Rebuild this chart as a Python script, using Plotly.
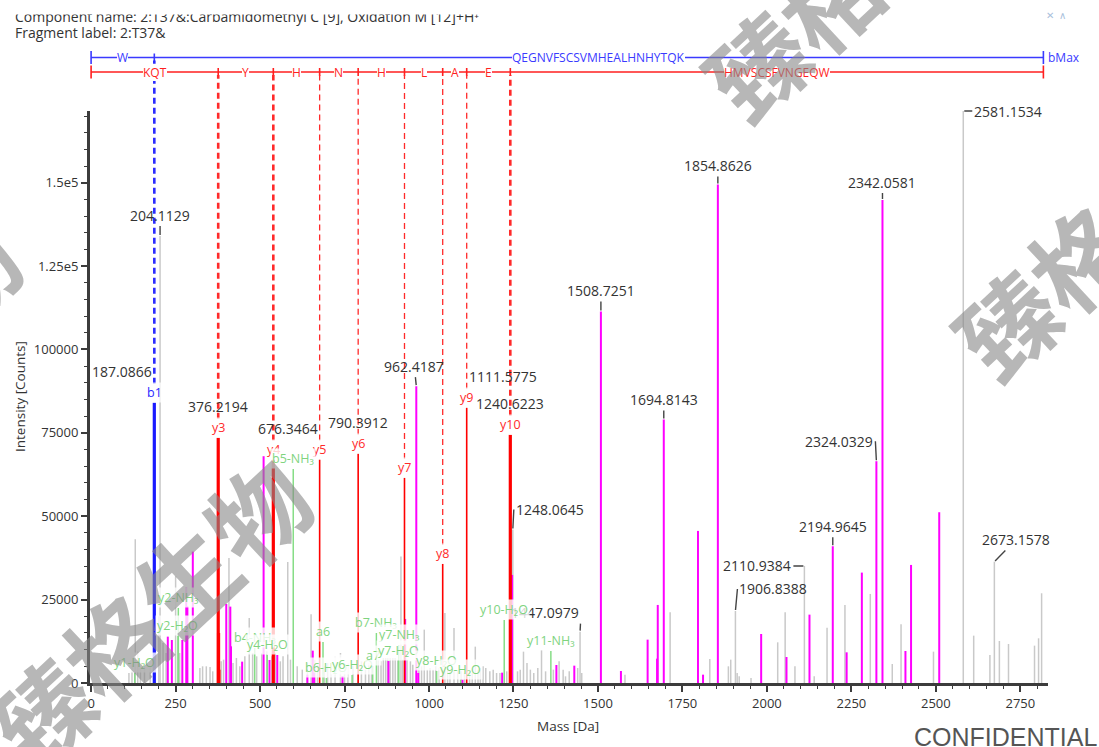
import plotly.graph_objects as go

# ------------------------------------------------------------------ data
grey_mz = [112, 121, 130.7, 138, 146, 158, 175, 200.5, 213, 222, 250.1, 262, 322, 330, 341, 352, 360,
           385, 392, 408, 420, 430, 440, 455, 468, 478, 490, 505, 520, 535, 545, 560, 568, 582, 590,
           610, 625, 640, 651, 662, 670, 690, 700, 710, 722, 738, 750, 760, 775, 790, 800, 812, 822,
           830, 850, 858, 865, 872, 878, 885, 893, 900, 908, 917, 922, 935, 945, 952, 970, 978, 986,
           995, 1003, 1012, 1020, 1030, 1047, 1055, 1062, 1074, 1085, 1095, 1105, 1120, 1128, 1137,
           1145, 1152, 1160, 1168, 1180, 1190, 1200, 1210, 1230, 1262, 1270, 1279.6, 1290, 1300,
           1310, 1322, 1333, 1345, 1368, 1385, 1397, 1404, 1415, 1440, 1452, 1580, 1713.6, 1831,
           1886, 1893, 1912, 1918, 1953, 2032, 2054, 2083, 2140, 2178, 2231, 2306, 2371, 2397, 2493,
           2612, 2660, 2688, 2715, 2792, 2804, 2813]
grey_int = [3000, 5500, 43100, 9400, 4500, 6000, 5000, 20000, 12000, 9000, 32000, 9000, 4500, 5000,
            5000, 4800, 3500, 6500, 7000, 37500, 6000, 7500, 5000, 8000, 19500, 9000, 8000, 9000,
            9500, 8000, 9000, 6500, 8000, 36300, 7000, 5000, 4000, 6000, 20600, 7000, 5500, 5000,
            6000, 4500, 8000, 9000, 5000, 6000, 5000, 4000, 6500, 4000, 6000, 9000, 7000, 6500,
            7500, 7500, 7500, 7500, 7500, 7500, 7000, 37900, 7000, 7000, 6500, 5500, 5000, 5000,
            16000, 4000, 4500, 4000, 5000, 4500, 21000, 4000, 3500, 16500, 4000, 3500, 3000, 3500,
            3000, 10900, 4000, 4500, 5000, 4500, 3500, 4000, 3000, 3000, 3500, 3500, 4000, 9400,
            6000, 4000, 3000, 4500, 9900, 3500, 4000, 6500, 4000, 2000, 3500, 4500, 3000, 2500,
            21200, 7200, 5000, 7000, 3000, 2000, 1500, 12200, 21200, 5000, 2000, 16600, 23400,
            26700, 5700, 17600, 9400, 14200, 8400, 12600, 11700, 11200, 13400, 26900]

grey_lab_mz = [204.1129, 1248.0645, 1447.0979, 1906.8388, 2110.9384, 2581.1534, 2673.1578]
grey_lab_int = [134000, 46000, 15400, 21600, 35100, 171500, 36400]

mag_mz = [227, 239, 270, 281.6, 285, 301, 400, 412, 414, 447, 510.5, 528, 551, 640, 656, 660, 744,
          880, 929.5, 968, 1099, 1216.5, 1246, 1377, 1430, 1568, 1647, 1675, 1677, 1796, 1811,
          1983, 2058, 2126, 2236, 2281, 2410, 2426.6, 2510]
mag_int = [13900, 12900, 12900, 28600, 23000, 39400, 23700, 22900, 11000, 6400, 68000, 6900, 8400,
           2500, 9700, 3000, 2100, 6600, 19200, 3000, 1000, 3100, 32400, 5400, 5200, 3600, 13000,
           7300, 23400, 45600, 2500, 14700, 7800, 20500, 9200, 33100, 9600, 35400, 51200]

mag_lab_mz = [962.4187, 1508.7251, 1694.8143, 1854.8626, 2194.9645, 2324.0329, 2342.0581]
mag_lab_int = [89000, 111400, 79000, 149500, 41000, 66500, 144800]

b_ion_names = ["b1"]
b_ion_mz = [187.0866]
b_ion_int = [84000]

y_ion_names = ["y3", "y4", "y5", "y6", "y7", "y8", "y9", "y10"]
y_ion_mz = [376.2194, 539.2827, 676.3464, 790.3912, 927.4501, 1040.5342, 1111.5775, 1240.6223]
y_ion_int = [73500, 67000, 67000, 68700, 61500, 35700, 82500, 74400]
y_iso_mz = [377.2224, 378.2210]
y_iso_int = [15000, 4000]

nl_names = ["y1-H₂O", "y2-NH₃", "y2-H₂O", "b4-NH₃", "y4-H₂O", "b5-NH₃", "a6", "b6-H₂O", "y6-H₂O",
            "a7", "b7-NH₃", "y7-NH₃", "y7-H₂O", "y8-H₂O", "y9-H₂O", "y10-H₂O", "y11-NH₃"]
nl_mz = [129.1022, 258.1448, 257.1608, 484.17, 521.27, 598.22, 686.32, 696.31, 772.38, 833.38,
         844.36, 910.42, 909.44, 1022.52, 1093.56, 1222.61, 1360.65]
nl_int = [3000, 22500, 14100, 10500, 8400, 64200, 12300, 1500, 2400, 5100, 15000, 11400, 6600,
          3600, 1000, 18900, 9600]

precursor_mh = 2818.25
b_segments = ["W", "QEGNVFSCSVMHEALHNHYTQK"]
y_segments = ["KQT", "Y", "H", "N", "H", "L", "A", "E", "HMVSCSFVNGEQW"]
mass_labelled_ions = ["b1", "y3", "y5", "y6", "y9", "y10"]

x_tick_step = 250
y_tickvals = [0, 25000, 50000, 75000, 100000, 125000, 150000]
y_ticktext = ["0", "25000", "50000", "75000", "100000", "1.25e5", "1.5e5"]

title_line1 = "Component name: 2:T37&:Carbamidomethyl C [9], Oxidation M [12]+H⁺"
title_line2 = "Fragment label: 2:T37&"
watermark = "臻格生物"

# ------------------------------------------------------------------ styles
FONT = "Open Sans"
L, T, R, B = 90, 111, 51, 64
W, H = 1099 - L - R, 747 - T - B
PXDA = 0.3379
X0 = -(91.1 - L) / PXDA
X1 = X0 + W / PXDA
YMAX = max(grey_lab_int)

GREY, MAG, RED, BLUE, GREEN = "#c9c9c9", "#ff00ff", "#ff0000", "#1a1aff", "#86dd86"
thick_ions = {"b1", "y3", "y4", "y10"}
ion_label_px = 19  # height of an ion label box


def sticks(mz, inten):
    xs, ys = [], []
    for m, v in zip(mz, inten):
        xs += [m, m, None]
        ys += [0, v, None]
    return xs, ys


fig = go.Figure()


def add_sticks(mz, inten, color, width):
    xs, ys = sticks(mz, inten)
    fig.add_trace(go.Scatter(x=xs, y=ys, mode="lines", line=dict(color=color, width=width),
                             hoverinfo="skip", showlegend=False))


add_sticks(grey_mz + grey_lab_mz, grey_int + grey_lab_int, GREY, 1.5)
add_sticks(mag_mz + mag_lab_mz, mag_int + mag_lab_int, MAG, 2)
add_sticks(nl_mz, nl_int, GREEN, 1.5)
thin_y = [(m, v) for n, m, v in zip(y_ion_names, y_ion_mz, y_ion_int) if n not in thick_ions]
thick_y = [(m, v) for n, m, v in zip(y_ion_names, y_ion_mz, y_ion_int) if n in thick_ions]
add_sticks([a for a, _ in thin_y], [b for _, b in thin_y], RED, 1.6)
add_sticks([a for a, _ in thick_y] + y_iso_mz, [b for _, b in thick_y] + y_iso_int, RED, 3.2)
add_sticks(b_ion_mz, b_ion_int, BLUE, 3.2)

ann = []
shapes = []

# ---- sequence coverage rows
yb = (683 - 57.5) / H
yr = (683 - 72) / H


def coverage(bounds, segs, yrow, color):
    shapes.append(dict(type="line", xref="x", yref="paper", x0=bounds[0], x1=bounds[-1],
                       y0=yrow, y1=yrow, line=dict(color=color, width=1.4)))
    for i, bx in enumerate(bounds):
        h = 6.5 if (i == 0 or i == len(bounds) - 1) else 4
        shapes.append(dict(type="line", xref="x", yref="paper", x0=bx, x1=bx,
                           y0=yrow - h / H, y1=yrow + h / H, line=dict(color=color, width=1.6)))
    for i, s in enumerate(segs):
        ann.append(dict(x=(bounds[i] + bounds[i + 1]) / 2, y=yrow, xref="x", yref="paper", text=s,
                        showarrow=False, xanchor="center", yanchor="middle",
                        font=dict(family=FONT, size=12, color=color),
                        bgcolor="white", borderpad=0, borderwidth=0))


coverage([0] + b_ion_mz + [precursor_mh], b_segments, yb, "#3a3aff")
coverage([0] + y_ion_mz + [precursor_mh], y_segments, yr, "#ff1f1f")
ann.append(dict(x=precursor_mh, y=yb, xref="x", yref="paper", text="bMax", xanchor="left",
                yanchor="middle", xshift=3, showarrow=False,
                font=dict(family=FONT, size=12, color="#3a3aff")))

# ---- dashed guides + ion labels


def ion_block(names, mzs, ints, color, yrow):
    for n, m, v in zip(names, mzs, ints):
        wdt = 2.6 if n in thick_ions else 1.3
        shapes.append(dict(type="line", xref="x", yref="paper", x0=m, x1=m,
                           y0=v / YMAX + ion_label_px / H, y1=yrow - 3 / H,
                           line=dict(color=color, width=wdt, dash="6px,4px")))
        ann.append(dict(x=m, y=v, xref="x", yref="y", text=n, showarrow=False, yanchor="bottom",
                        xanchor="center", font=dict(family=FONT, size=12.5, color=color),
                        bgcolor="rgba(255,255,255,0.75)", borderpad=1))
        if n in mass_labelled_ions:
            xa = {"b1": "right", "y5": "right", "y9": "left"}.get(n, "center")
            ann.append(dict(x=m, y=v, xref="x", yref="y", text=f"{m:.4f}", showarrow=False,
                            yanchor="bottom", xanchor=xa, yshift=ion_label_px + 1,
                            font=dict(family=FONT, size=14, color="#333333")))


ion_block(b_ion_names, b_ion_mz, b_ion_int, "#2a2aff", yb)
ion_block(y_ion_names, y_ion_mz, y_ion_int, "#ff2a2a", yr)

# ---- peak labels with leaders
place = {
    "204.1129": (0, -21, "center"), "962.4187": (-2, -20, "center"),
    "1508.7251": (0, -21, "center"), "1694.8143": (0, -20, "center"),
    "1854.8626": (0, -19, "center"), "2342.0581": (0, -18, "center"),
    "2324.0329": (-1, -20, "right"), "2194.9645": (0, -20, "center"),
    "2110.9384": (-11, 0, "right"), "1906.8388": (2, -22, "left"),
    "2673.1578": (22, -22, "center"), "1447.0979": (1, -19, "right"),
    "1248.0645": (1, -20, "left"), "2581.1534": (9, 0, "left"),
}
for m, v in list(zip(grey_lab_mz, grey_lab_int)) + list(zip(mag_lab_mz, mag_lab_int)):
    t = f"{m:.4f}"
    ax, ay, xa = place[t]
    ann.append(dict(x=m, y=v, xref="x", yref="y", text=t, showarrow=True, arrowhead=0,
                    arrowwidth=1.4, arrowcolor="#444444", ax=ax, ay=ay, xanchor=xa,
                    yanchor="middle", standoff=1,
                    font=dict(family=FONT, size=14, color="#333333")))

# ---- neutral-loss labels (on top)
for n, m, v in zip(nl_names, nl_mz, nl_int):
    ann.append(dict(x=m, y=v, xref="x", yref="y", text=n, showarrow=False, yanchor="bottom",
                    xanchor="center", font=dict(family=FONT, size=12.5, color="#7fd47f"),
                    bgcolor="rgba(255,255,255,0.8)", borderpad=1))

# ---- titles / texts


def px_x(px):
    return (px - L) / W


def px_y(py):
    return (683 - py) / H


def text_at(px, py, text, size, color, family=FONT, xa="left", weight=None, **kw):
    font = dict(family=family, size=size, color=color)
    if weight:
        font["weight"] = weight
    ann.append(dict(x=px_x(px), y=px_y(py), xref="paper", yref="paper", text=text,
                    xanchor=xa, yanchor="middle", showarrow=False, font=font, **kw))


text_at(13, 16, title_line1, 14, "#333333")
ann.append(dict(x=px_x(0), y=px_y(0), xref="paper", yref="paper", text=" ", width=700, height=11,
                xanchor="left", yanchor="top", showarrow=False, bgcolor="white"))
text_at(13, 33, title_line2, 14, "#333333")
text_at(1056, 15, "✕  ∧", 10, "#a9bfdc", xa="center")
text_at(20, 397, "Intensity [Counts]", 13.5, "#333333", xa="center", textangle=-90)
text_at(568, 726, "Mass [Da]", 13.5, "#333333", xa="center")
text_at(912, 737, "CONFIDENTIAL", 25, "#555555", family="Liberation Sans")

# ---- watermarks
for cx, cy in [(148, 610), (863, -37), (1113, 222), (-143, 372)]:
    text_at(cx, cy, watermark, 98, "rgba(135,135,135,0.6)", family="Noto Sans CJK SC",
            xa="center", weight=700, textangle=-43)

axis_common = dict(showline=True, linecolor="#3c3c3c", linewidth=3, ticks="outside", ticklen=6,
                   tickwidth=1.5, tickcolor="#3c3c3c", showgrid=False, zeroline=False,
                   tickfont=dict(family=FONT, size=13, color="#333333"))

fig.update_layout(
    width=1099, height=747, margin=dict(l=L, r=R, t=T, b=B),
    paper_bgcolor="white", plot_bgcolor="white", showlegend=False,
    xaxis=dict(range=[X0, X1], tick0=0, dtick=x_tick_step,
               minor=dict(dtick=x_tick_step / 5, ticklen=3, tickwidth=1, tickcolor="#3c3c3c",
                          ticks="outside"), **axis_common),
    yaxis=dict(range=[0, YMAX], tickvals=y_tickvals, ticktext=y_ticktext,
               minor=dict(dtick=5000, ticklen=3, tickwidth=1, tickcolor="#3c3c3c",
                          ticks="outside"), **axis_common),
    shapes=shapes, annotations=ann,
)

fig.write_html("out.html", config={"displayModeBar": False},
               post_script="document.body.style.margin='0px';")
